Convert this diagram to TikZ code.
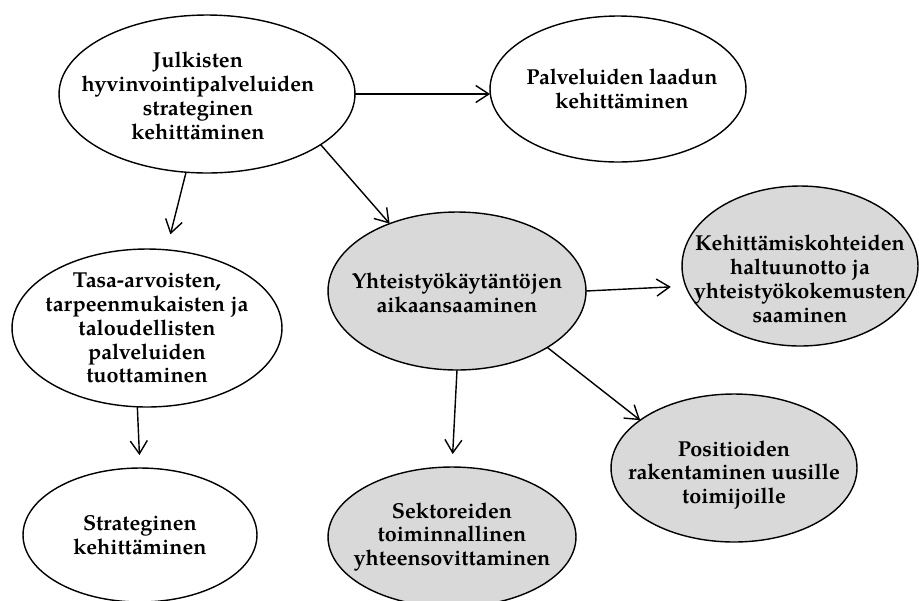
\documentclass[tikz,border=0pt]{standalone}
\usepackage{fontspec}
\setmainfont{TeX Gyre Pagella}
\usetikzlibrary{shapes.geometric,arrows.meta}
\definecolor{bubblegrey}{RGB}{217,217,217}

\begin{document}
\begin{tikzpicture}[x=0.02cm,y=-0.02cm,
	bubble/.style={draw,ellipse,line width=0.8pt,inner sep=0,outer sep=0},
	greybubble/.style={bubble,fill=bubblegrey},
	txt/.style={align=center,inner sep=0,font=\bfseries\fontsize{12.3}{13.6}\selectfont},
	arr/.style={line width=0.8pt,-{Straight Barb[length=0.26cm,width=0.34cm]}}]
	\useasboundingbox (0,0) rectangle (919,600);
	\node[bubble,minimum width=5.92cm,minimum height=3.16cm] (julkiset) at (207,94) {};
	\node[bubble,minimum width=5.12cm,minimum height=2.92cm] (laatu) at (618,89) {};
	\node[bubble,minimum width=5.4cm,minimum height=3.16cm] (tasa) at (147,328) {};
	\node[greybubble,minimum width=5.16cm,minimum height=3.16cm] (yhteis) at (457,291) {};
	\node[greybubble,minimum width=4.72cm,minimum height=3.2cm] (kohteet) at (800,266) {};
	\node[greybubble,minimum width=4.92cm,minimum height=2.96cm] (positiot) at (734,468) {};
	\node[greybubble,minimum width=4.96cm,minimum height=2.8cm] (sektorit) at (452,537) {};
	\node[bubble,minimum width=4.68cm,minimum height=2.68cm] (strat) at (140,535) {};
	\node[txt] (julkiset-t) at (198,96) {Julkisten\\hyvinvointipalveluiden\\strateginen\\kehittäminen};
	\node[txt] (laatu-t) at (622,89) {Palveluiden laadun\\kehittäminen};
	\node[txt] (tasa-t) at (tasa) {Tasa-arvoisten,\\tarpeenmukaisten ja\\taloudellisten\\palveluiden\\tuottaminen};
	\node[txt] (yhteis-t) at (457,293) {Yhteistyökäytäntöjen\\aikaansaaminen};
	\node[txt] (kohteet-t) at (800,279) {Kehittämiskohteiden\\haltuunotto ja\\yhteistyökokemusten\\saaminen};
	\node[txt] (positiot-t) at (734,475) {Positioiden\\rakentaminen uusille\\toimijoille};
	\node[txt] (sektorit-t) at (sektorit) {Sektoreiden\\toiminnallinen\\yhteensovittaminen};
	\node[txt] (strat-t) at (strat) {Strateginen\\kehittäminen};
	\draw[arr] (julkiset.east) -- (julkiset.east -| laatu.west);
	\draw[arr,shorten >=0.32cm] (julkiset.255) -- (tasa.76);
	\draw[arr] (julkiset.-24) -- (yhteis.135);
	\draw[arr,shorten >=0.3cm] (yhteis.east) -- (kohteet.190);
	\draw[arr] (yhteis.-32) -- (positiot.153);
	\draw[arr,shorten >=0.26cm] (yhteis.south) -- (sektorit.north);
	\draw[arr,shorten >=0.26cm] (tasa.263) -- (strat.north);
\end{tikzpicture}
\end{document}
